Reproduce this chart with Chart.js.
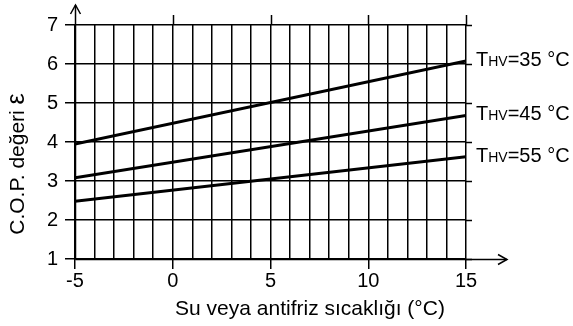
<!DOCTYPE html>
<html><head><meta charset="utf-8">
<script src="https://cdn.jsdelivr.net/npm/chart.js@4/dist/chart.umd.min.js"></script>
<style>html,body{margin:0;padding:0;background:#fff}#w{width:573px;height:326px}</style>
</head><body><div id="w"><canvas id="c"></canvas></div>
<script>
const xTemps = [-5, 15];
const cop35 = [3.95, 6.08];
const cop45 = [3.08, 4.68];
const cop55 = [2.48, 3.62];
const seriesNames = ['35 °C', '45 °C', '55 °C'];
const xTitle = 'Su veya antifriz sıcaklığı (°C)';
const yTitleMain = 'C.O.P. değeri ';
const yTitleSym = 'ε';
const FONT = "'Liberation Sans', Arial, sans-serif";

function pts(ys){ return xTemps.map((x,i)=>({x:x,y:ys[i]})); }

const extras = {
  id:'extras',
  afterDraw(chart){
    const ctx = chart.ctx, xs = chart.scales.x, ys = chart.scales.y, a = chart.chartArea;
    ctx.save();
    ctx.strokeStyle = '#000'; ctx.lineWidth = 1.5;
    for (let v = 1; v <= 7; v++) {
      const y = Math.round(ys.getPixelForValue(v)) + 0.5;
      ctx.beginPath(); ctx.moveTo(a.right, y); ctx.lineTo(a.right + 6, y); ctx.stroke();
    }
    [0,5,10,15].forEach(v=>{
      const x = Math.round(xs.getPixelForValue(v)) + 0.5;
      ctx.beginPath(); ctx.moveTo(x, a.top); ctx.lineTo(x, a.top - 10); ctx.stroke();
    });
    const x0 = Math.round(xs.getPixelForValue(-5)) + 0.5;
    const y0 = Math.round(ys.getPixelForValue(1)) + 0.5;
    ctx.beginPath(); ctx.moveTo(x0, y0); ctx.lineTo(x0, a.top - 20); ctx.stroke();
    ctx.beginPath(); ctx.moveTo(x0 - 5, a.top - 11); ctx.lineTo(x0, a.top - 20); ctx.lineTo(x0 + 5, a.top - 11); ctx.stroke();
    ctx.beginPath(); ctx.moveTo(x0, y0); ctx.lineTo(a.right + 41, y0); ctx.stroke();
    ctx.beginPath(); ctx.moveTo(a.right + 32, y0 - 5); ctx.lineTo(a.right + 41, y0); ctx.lineTo(a.right + 32, y0 + 5); ctx.stroke();

    ctx.fillStyle = '#000'; ctx.textBaseline = 'alphabetic'; ctx.textAlign = 'left';
    chart.data.datasets.forEach((ds, i) => {
      const last = ds.data[ds.data.length - 1];
      const yc = ys.getPixelForValue(last.y) - 2;
      let x = a.right + 10;
      const base = yc + 7;
      ctx.font = '20px ' + FONT; ctx.fillText('T', x, base); x += ctx.measureText('T').width;
      ctx.font = '14px ' + FONT; ctx.fillText('HV', x, base); x += ctx.measureText('HV').width;
      ctx.font = '20px ' + FONT; ctx.fillText('=' + seriesNames[i], x, base);
    });

    // x title
    ctx.font = '21px ' + FONT; ctx.textAlign = 'center';
    ctx.fillText(xTitle, 310, 315);
    // y title
    ctx.translate(24, 164); ctx.rotate(-Math.PI/2);
    ctx.font = '21px ' + FONT;
    const w1 = ctx.measureText(yTitleMain).width;
    ctx.font = '25px ' + FONT;
    const w2 = ctx.measureText(yTitleSym).width;
    ctx.textAlign = 'left';
    ctx.font = '21px ' + FONT; ctx.fillText(yTitleMain, -(w1 + w2)/2, 0);
    ctx.font = '25px ' + FONT; ctx.fillText(yTitleSym, -(w1 + w2)/2 + w1, 0);
    ctx.restore();
  }
};

const mkDs = d => ({data: pts(d), borderColor:'#000', borderWidth:3, pointRadius:0, fill:false, tension:0});

new Chart(document.getElementById('c'), {
  type:'line',
  data:{ datasets:[mkDs(cop35), mkDs(cop45), mkDs(cop55)] },
  plugins:[extras],
  options:{
    responsive:true, maintainAspectRatio:false, animation:false,
    layout:{padding:{top:25, right:107, left:0, bottom:0}},
    plugins:{legend:{display:false}, tooltip:{enabled:false}},
    scales:{
      x:{type:'linear', min:-5, max:15,
        afterFit(s){ s.height = 67; },
        border:{display:false},
        grid:{color:'#000', lineWidth:1.5, tickLength:10,
          tickColor: c => (c.tick && c.tick.value % 5 === 0) ? '#000' : 'rgba(0,0,0,0)', tickWidth:1.5},
        ticks:{stepSize:1, autoSkip:false, maxRotation:0, padding:0, color:'#000',
          font:{family:FONT, size:20},
          callback: v => (v % 5 === 0 ? String(v) : '')},
        title:{display:false}
      },
      y:{min:1, max:7,
        afterFit(s){ s.width = 75; },
        border:{display:false},
        grid:{color:'#000', lineWidth:1.5, tickLength:10, tickColor:'#000', tickWidth:1.5},
        ticks:{stepSize:1, padding:7, color:'#000', font:{family:FONT, size:20}},
        title:{display:false}
      }
    }
  }
});
</script></body></html>
